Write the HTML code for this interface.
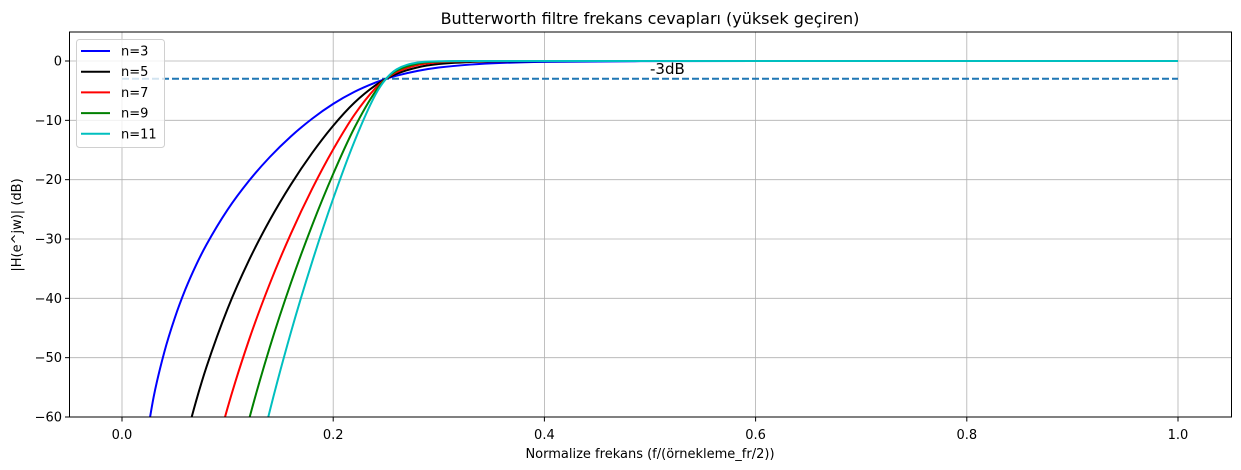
<!DOCTYPE html>
<html><head><meta charset="utf-8"><style>
html,body{margin:0;padding:0;background:#fff;overflow:hidden;width:1241px;height:470px;}
svg{display:block;font-family:"DejaVu Sans","Liberation Sans",sans-serif;}
</style></head><body>
<svg id="chart" width="1241" height="470">
<defs><clipPath id="clip"><rect x="69.5" y="32" width="1162" height="385"/></clipPath></defs>
<rect x="0" y="0" width="1241" height="470" fill="#fff"/>
<text x="650" y="24" text-anchor="middle" font-size="16">Butterworth filtre frekans cevapları (yüksek geçiren)</text>
<g id="grid"></g>
<g id="series" clip-path="url(#clip)"></g>
<rect x="69.5" y="32" width="1162" height="385" fill="none" stroke="#000" stroke-width="1"/>
<g id="ticks"></g>
<text x="650" y="458" text-anchor="middle" font-size="13">Normalize frekans (f/(örnekleme_fr/2))</text>
<text transform="translate(21,225) rotate(-90)" text-anchor="middle" font-size="13">|H(e^jw)| (dB)</text>
<g id="legend"></g>
</svg>
<script>
const freq=[0.02,0.03,0.04,0.05,0.06,0.07,0.08,0.10,0.12,0.14,0.16,0.18,0.20,0.22,0.24,0.25,0.26,0.28,0.30,0.33,0.36,0.40,0.50,0.60,0.80,1.0];
const db3=[-67.2,-56.6,-49.1,-43.3,-38.5,-34.45,-30.95,-25.06,-20.25,-16.18,-12.7,-9.73,-7.23,-5.21,-3.64,-3.01,-2.48,-1.66,-1.1,-0.6,-0.32,-0.147,-0.022,-0.002,0,0];
const db5=[-112,-94.4,-81.9,-72.1,-64.17,-57.42,-51.57,-41.75,-33.68,-26.8,-20.8,-15.52,-10.91,-7.04,-4.1,-3.01,-2.16,-1.07,-0.515,-0.174,-0.06,-0.016,0,0,0,0];
const db7=[-156.8,-132.1,-114.6,-101,-89.8,-80.4,-72.2,-58.45,-47.15,-37.51,-29.08,-21.57,-14.9,-9.1,-4.59,-3.01,-1.88,-0.67,-0.232,-0.049,-0.011,0,0,0,0,0];
const db9=[-201.6,-170,-147,-129.8,-115.5,-103,-92.8,-75.2,-60.62,-48.22,-37.39,-27.72,-19.03,-11.29,-5.12,-3.01,-1.63,-0.42,-0.103,-0.014,0,0,0,0,0,0];
const db11=[-246.4,-207.6,-180,-158.7,-141.2,-126.3,-113.5,-91.9,-74.1,-58.94,-45.69,-33.88,-23.19,-13.6,-5.68,-3.01,-1.41,-0.255,-0.045,0,0,0,0,0,0,0];
const seriesLabels=["n=3","n=5","n=7","n=9","n=11"];
const seriesColors=["#0000ff","#000000","#ff0000","#008000","#00bfbf"];
const xTicks=[0,0.2,0.4,0.6,0.8,1.0];
const xTickLabels=["0.0","0.2","0.4","0.6","0.8","1.0"];
const yTicks=[0,-10,-20,-30,-40,-50,-60];
const cutoffDb=-3;
const NS="http://www.w3.org/2000/svg";
const X=v=>122+v*1056, Y=v=>61-v*(356/60);
function mk(t,a,p){const e=document.createElementNS(NS,t);for(const k in a)e.setAttribute(k,a[k]);p.appendChild(e);return e;}
const grid=document.getElementById('grid'),ticks=document.getElementById('ticks');
xTicks.forEach((v,i)=>{
 const g=mk('line',{x1:X(v),x2:X(v),y1:32,y2:417,stroke:'#b0b0b0','stroke-width':0.8},grid);
 
 
 const t=mk('line',{x1:X(v),x2:X(v),y1:417,y2:421.5,stroke:'#000'},ticks);
 
 
 const l=mk('text',{x:X(v),y:439,'text-anchor':'middle','font-size':13},ticks);l.textContent=xTickLabels[i];
 
 
});
yTicks.forEach(v=>{
 const g=mk('line',{x1:69.5,x2:1231.5,y1:Y(v),y2:Y(v),stroke:'#b0b0b0','stroke-width':0.8},grid);
 
 
 const t=mk('line',{x1:65,x2:69.5,y1:Y(v),y2:Y(v),stroke:'#000'},ticks);
 
 
 const l=mk('text',{x:62,y:Y(v)+4.5,'text-anchor':'end','font-size':13},ticks);l.textContent=String(v).replace('-','−');
 
 
});
function monoPath(xs,ys){
 const n=xs.length,d=[],m=[];
 for(let i=0;i<n-1;i++)d.push((ys[i+1]-ys[i])/(xs[i+1]-xs[i]));
 m[0]=d[0];m[n-1]=d[n-2];
 for(let i=1;i<n-1;i++){m[i]=(d[i-1]*d[i]<=0)?0:(d[i-1]+d[i])/2;}
 for(let i=0;i<n-1;i++){if(d[i]===0){m[i]=0;m[i+1]=0;continue;}const a=m[i]/d[i],b=m[i+1]/d[i],s=a*a+b*b;if(s>9){const t=3/Math.sqrt(s);m[i]=t*a*d[i];m[i+1]=t*b*d[i];}}
 let p=`M${X(xs[0])},${Y(ys[0])}`;
 for(let i=0;i<n-1;i++){const h=xs[i+1]-xs[i];
  p+=` C${X(xs[i]+h/3)},${Y(ys[i]+m[i]*h/3)} ${X(xs[i+1]-h/3)},${Y(ys[i+1]-m[i+1]*h/3)} ${X(xs[i+1])},${Y(ys[i+1])}`;}
 return p;
}
const sg=document.getElementById('series');
const cl=mk('line',{x1:X(0),x2:X(1),y1:Y(cutoffDb),y2:Y(cutoffDb),stroke:'#1f77b4','stroke-width':2,'stroke-dasharray':'7,3'},sg);


[db3,db5,db7,db9,db11].forEach((s,i)=>{
 const p=mk('path',{d:monoPath(freq,s),fill:'none',stroke:seriesColors[i],'stroke-width':2},sg);
 
 
});
const lbl=mk('text',{x:X(0.5),y:74,'font-size':15},document.getElementById('chart'));lbl.textContent='-3dB';


const lg=document.getElementById('legend');


mk('rect',{x:76.5,y:39.5,width:88,height:108,rx:3,fill:'#fff','fill-opacity':0.8,stroke:'#d0d0d0'},lg);
seriesLabels.forEach((s,i)=>{
 const y=51+i*20.7;
 const g=mk('g',{},lg);
 
 
 mk('line',{x1:81,x2:110,y1:y,y2:y,stroke:seriesColors[i],'stroke-width':2},g);
 const t=mk('text',{x:121,y:y+4.5,'font-size':13},g);t.textContent=s;
});
</script>
</body></html>
